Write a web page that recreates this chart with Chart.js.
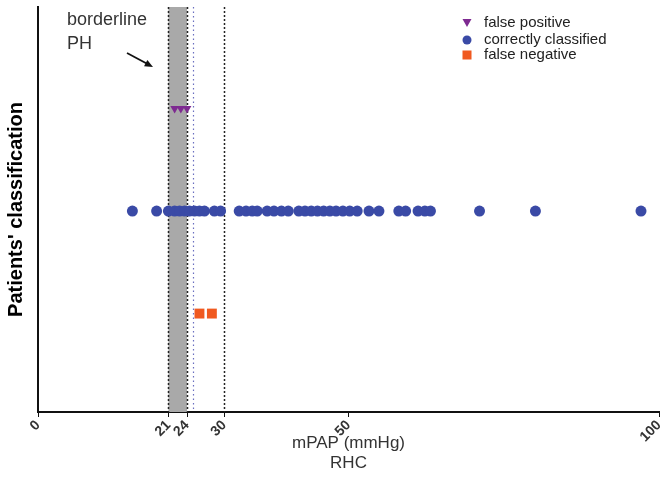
<!DOCTYPE html>
<html>
<head>
<meta charset="utf-8">
<script src="https://cdn.jsdelivr.net/npm/chart.js@4/dist/chart.umd.min.js"></script>
<style>
html, body { margin: 0; padding: 0; background: #fff; }
#wrap { width: 666px; height: 478px; }
</style>
</head>
<body>
<div id="wrap"><canvas id="chart" width="666" height="478"></canvas></div>
<script>
// tick labels on the mPAP axis
const xTicks = [0, 21, 24, 30, 50, 100];

// classes, bottom to top is 1..3 on the y axis
const classes = ["false positive", "correctly classified", "false negative"];
const classLevels = [3, 2, 1];

// mPAP values (mmHg) per class
const falsePositive = [22, 23, 24];
const correctlyClassified = [
  15.2, 19.1, 21, 22, 22.8, 23.6, 24.4, 25.2, 26, 26.8, 28.4, 29.4,
  32.4, 33.5, 34.5, 35.3, 36.9, 38, 39.2, 40.3,
  42, 43, 44, 45, 46, 47, 48, 49.1, 50.2, 51.4, 53.3, 54.9,
  58.1, 59.2, 61.2, 62.3, 63.2, 71.1, 80.1, 97.1
];
const falseNegative = [26, 28];

// borderline band and cut-off lines
const borderline = [21, 24];
const blueCutoff = 25;
const blackCutoff = 30;

function toPoints(values, level) {
  return values.map(function (v) { return { x: v, y: level }; });
}

// shaded band + dotted reference lines, drawn under the points
const bandPlugin = {
  id: "band",
  beforeDatasetsDraw: function (chart) {
    const ctx = chart.ctx;
    const x = chart.scales.x;
    const area = chart.chartArea;
    const x1 = x.getPixelForValue(borderline[0]);
    const x2 = x.getPixelForValue(borderline[1]);
    ctx.save();
    ctx.fillStyle = "#a9a9a9";
    ctx.fillRect(x1, area.top, x2 - x1, area.bottom - area.top);

    ctx.lineWidth = 1.5;
    ctx.strokeStyle = "#222";
    ctx.setLineDash([2, 2]);
    [borderline[0], borderline[1], blackCutoff].forEach(function (v) {
      const px = Math.round(x.getPixelForValue(v)) + 0.5;
      ctx.beginPath();
      ctx.moveTo(px, area.top);
      ctx.lineTo(px, area.bottom);
      ctx.stroke();
    });

    ctx.strokeStyle = "#6a6fc0";
    ctx.lineWidth = 1.2;
    ctx.setLineDash([1.5, 3]);
    const bx = Math.round(x.getPixelForValue(blueCutoff)) + 0.5;
    ctx.beginPath();
    ctx.moveTo(bx, area.top);
    ctx.lineTo(bx, area.bottom);
    ctx.stroke();
    ctx.restore();
  }
};

// "borderline PH" note, arrow and the legend in the top right
const notesPlugin = {
  id: "notes",
  afterDraw: function (chart) {
    const ctx = chart.ctx;
    ctx.save();
    ctx.fillStyle = "#333";
    ctx.font = "18px 'Liberation Sans', Arial, sans-serif";
    ctx.textBaseline = "middle";
    ctx.fillText("borderline", 67, 20);
    ctx.fillText("PH", 67, 44);

    // arrow
    ctx.strokeStyle = "#111";
    ctx.fillStyle = "#111";
    ctx.lineWidth = 1.8;
    const ax = 127, ay = 53, bx = 153, by = 67;
    ctx.beginPath();
    ctx.moveTo(ax, ay);
    ctx.lineTo(bx - 4, by - 2.2);
    ctx.stroke();
    const ang = Math.atan2(by - ay, bx - ax);
    ctx.beginPath();
    ctx.moveTo(bx, by);
    ctx.lineTo(bx - 9 * Math.cos(ang - 0.4), by - 9 * Math.sin(ang - 0.4));
    ctx.lineTo(bx - 9 * Math.cos(ang + 0.4), by - 9 * Math.sin(ang + 0.4));
    ctx.closePath();
    ctx.fill();

    // legend
    const rows = [23, 40, 55];
    ctx.font = "15px 'Liberation Sans', Arial, sans-serif";
    chart.data.datasets.forEach(function (ds, i) {
      const y = rows[i];
      const mx = 467;
      ctx.fillStyle = ds.backgroundColor;
      if (ds.pointStyle === "triangle") {
        ctx.beginPath();
        ctx.moveTo(mx - 4.5, y - 4);
        ctx.lineTo(mx + 4.5, y - 4);
        ctx.lineTo(mx, y + 4);
        ctx.closePath();
        ctx.fill();
      } else if (ds.pointStyle === "rect") {
        ctx.fillRect(mx - 4.5, y - 4.5, 9, 9);
      } else {
        ctx.beginPath();
        ctx.arc(mx, y, 4.5, 0, Math.PI * 2);
        ctx.fill();
      }
      ctx.fillStyle = "#222";
      ctx.fillText(ds.label, 484, y);
    });
    ctx.restore();
  }
};

new Chart(document.getElementById("chart").getContext("2d"), {
  type: "scatter",
  data: {
    datasets: [
      {
        label: classes[0],
        data: toPoints(falsePositive, classLevels[0]),
        pointStyle: "triangle",
        rotation: 180,
        radius: 5,
        backgroundColor: "#7e2a91",
        borderColor: "#7e2a91",
        borderWidth: 0
      },
      {
        label: classes[1],
        data: toPoints(correctlyClassified, classLevels[1]),
        pointStyle: "circle",
        radius: 5.5,
        backgroundColor: "#3a4aa6",
        borderColor: "#3a4aa6",
        borderWidth: 0
      },
      {
        label: classes[2],
        data: toPoints(falseNegative, classLevels[2]),
        pointStyle: "rect",
        radius: 7,
        backgroundColor: "#f0591f",
        borderColor: "#f0591f",
        borderWidth: 0
      }
    ]
  },
  options: {
    responsive: false,
    animation: false,
    layout: { padding: { top: 5, right: 5, left: 0, bottom: 0 } },
    plugins: {
      legend: { display: false },
      tooltip: { enabled: false }
    },
    scales: {
      x: {
        type: "linear",
        min: 0,
        max: 100,
        afterBuildTicks: function (scale) {
          scale.ticks = xTicks.map(function (v) { return { value: v }; });
        },
        afterFit: function (scale) {
          scale.height = 66;
          scale.paddingLeft = 0;
          scale.paddingRight = 0;
        },
        border: { color: "#111", width: 2 },
        grid: { drawOnChartArea: false, drawTicks: true, tickLength: 5, color: "#111" },
        ticks: {
          autoSkip: false,
          minRotation: 45,
          maxRotation: 45,
          padding: 0,
          color: "#333",
          font: { family: "'Liberation Sans', Arial, sans-serif", size: 14, weight: "bold" }
        },
        title: {
          display: true,
          text: ["mPAP (mmHg)", "RHC"],
          color: "#333",
          padding: { top: 0, bottom: 4 },
          font: { family: "'Liberation Sans', Arial, sans-serif", size: 17 }
        }
      },
      y: {
        min: 0.04,
        max: 3.99,
        afterFit: function (scale) { scale.width = 38; },
        border: { color: "#111", width: 2 },
        grid: { display: false },
        ticks: { display: false },
        title: {
          display: true,
          text: "Patients' classification",
          color: "#000",
          padding: { top: 4, bottom: 0 },
          font: { family: "'Liberation Sans', Arial, sans-serif", size: 20, weight: "bold" }
        }
      }
    }
  },
  plugins: [bandPlugin, notesPlugin]
});
</script>
</body>
</html>
